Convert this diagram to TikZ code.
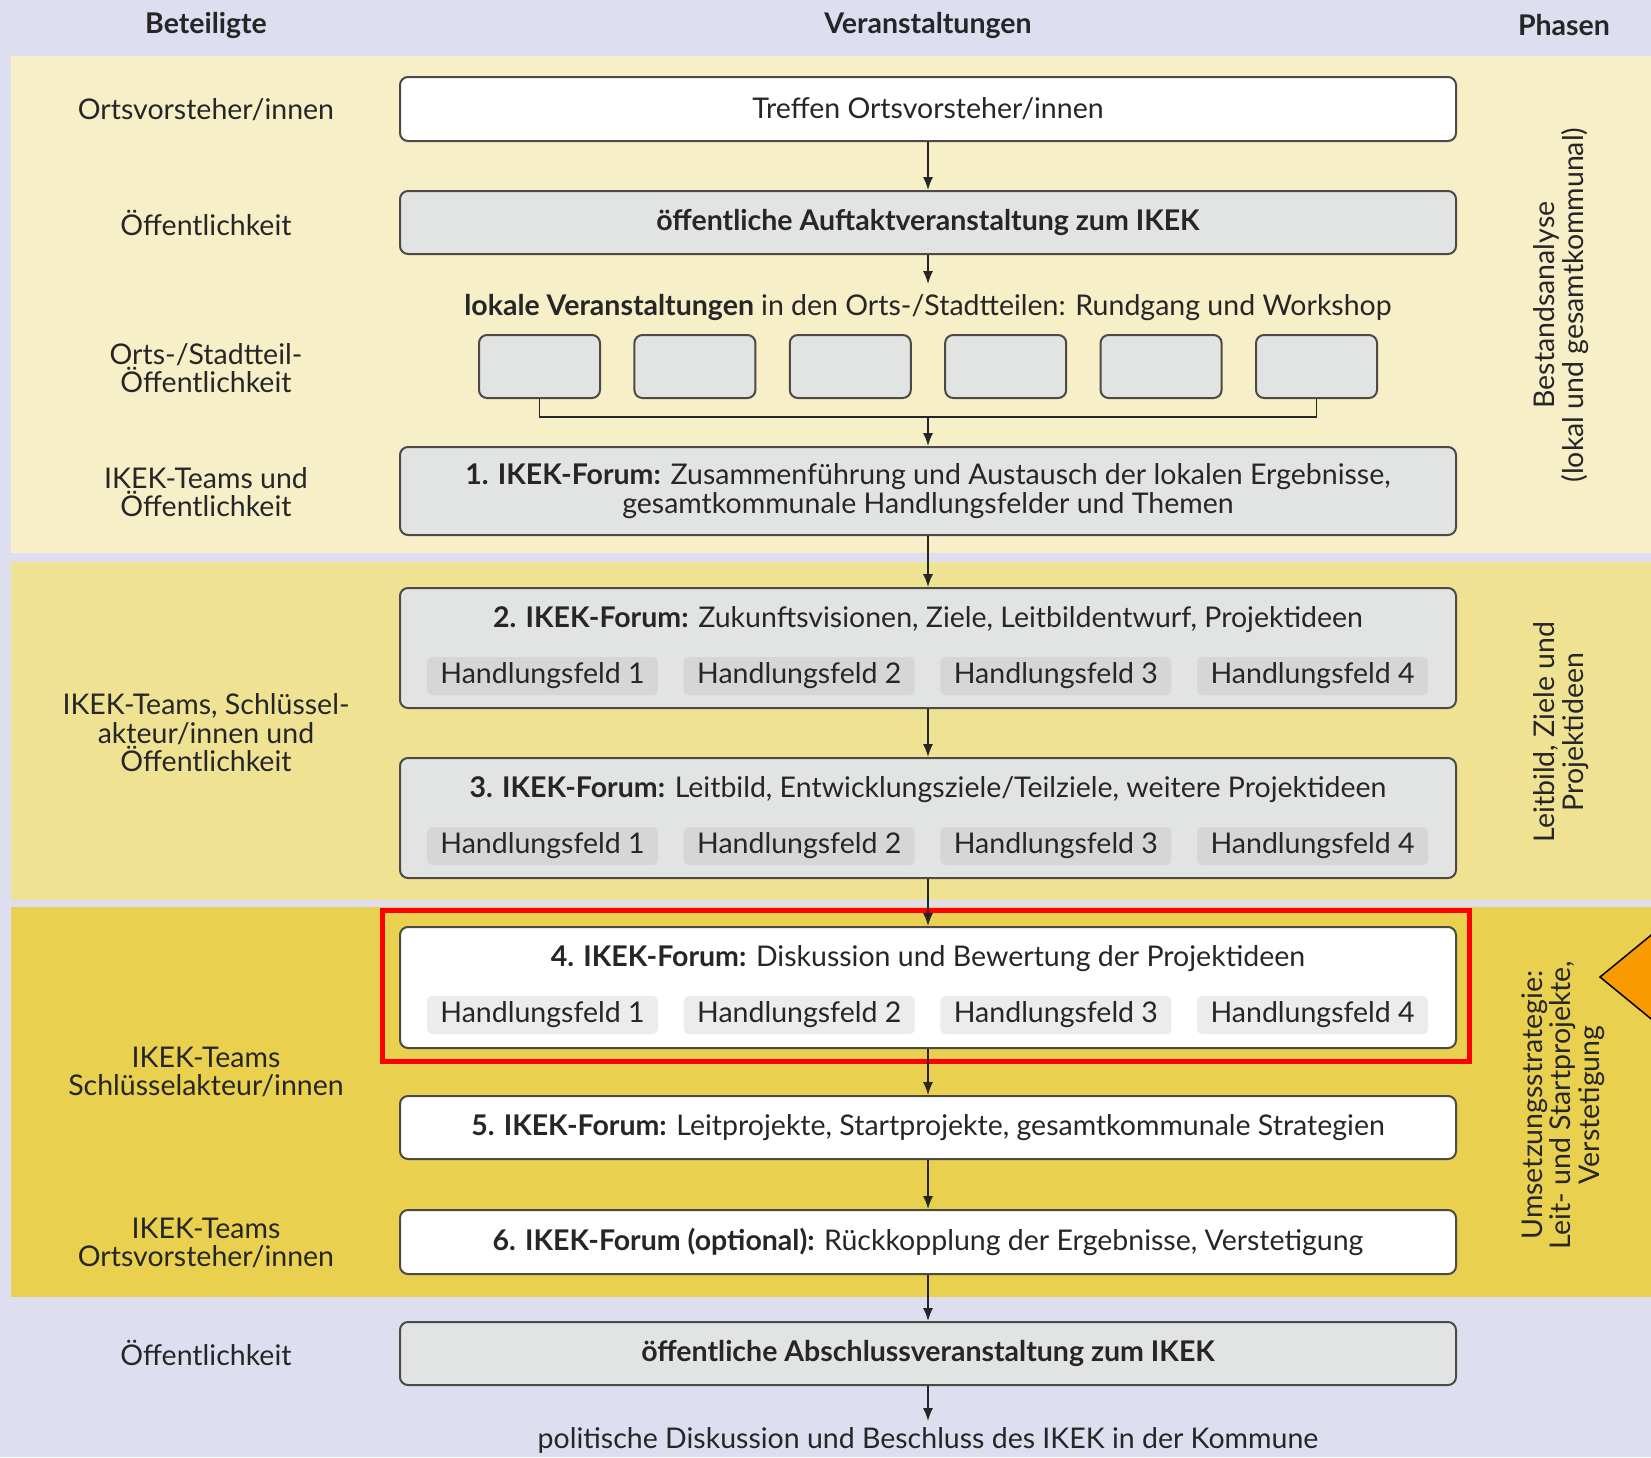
\documentclass[tikz,border=0pt]{standalone}
\usepackage{fontspec}
\setmainfont{Lato}
\usetikzlibrary{arrows.meta}
\definecolor{bgl}{RGB}{221,222,240}
\definecolor{band1}{RGB}{247,239,200}
\definecolor{band2}{RGB}{239,226,147}
\definecolor{band3}{RGB}{233,208,78}
\definecolor{boxgray}{RGB}{226,228,228}
\definecolor{pillgray}{RGB}{214,214,214}
\definecolor{pilllight}{RGB}{236,236,236}
\definecolor{edge}{RGB}{77,74,69}
\definecolor{txt}{RGB}{38,38,38}
\definecolor{orng}{RGB}{249,155,0}
\begin{document}
\begin{tikzpicture}[x=1pt,y=-1pt,
  every node/.style={text=txt, font=\fontsize{28.5}{28.5}\selectfont, inner sep=0pt},
  evbox/.style={draw=edge, line width=2pt, rounded corners=8pt, minimum width=1056pt},
  whitebox/.style={evbox, fill=white},
  graybox/.style={evbox, fill=boxgray},
  smallbox/.style={draw=edge, line width=2pt, rounded corners=8pt, fill=boxgray, minimum width=121pt, minimum height=63pt},
  pill/.style={rounded corners=5pt, minimum width=231pt, minimum height=38pt},
  lbl/.style={align=center},
  phase/.style={align=center, rotate=90},
  hdr/.style={font=\fontsize{28.5}{28.5}\selectfont\bfseries},
  conn/.style={draw=txt, line width=1.5pt},
  arr/.style={conn, -{Latex[length=13pt,width=10pt]}}
]
\useasboundingbox (0,0) rectangle (1651,1457);
\fill[bgl] (0,0) rectangle (1651,1457);
\fill[band1] (11,56) rectangle (1660,553);
\fill[band2] (11,562) rectangle (1660,900);
\fill[band3] (11,907) rectangle (1660,1297);

% headers
\node[hdr] (h1) at (206,25) {Beteiligte};
\node[hdr] (h2) at (928,25) {Veranstaltungen};
\node[hdr] (h3) at (1564,25) {Phasen};

% left labels
\node[lbl] (l1) at (206,110) {Ortsvorsteher/innen};
\node[lbl] (l2) at (206,223) {Öffentlichkeit};
\node[lbl] (l3) at (206,368) {Orts-/Stadtteil-\\Öffentlichkeit};
\node[lbl] (l4) at (206,492) {IKEK-Teams und\\Öffentlichkeit};
\node[lbl] (l5) at (206,733) {IKEK-Teams, Schlüssel-\\akteur/innen und\\Öffentlichkeit};
\node[lbl] (l6) at (206,1072) {IKEK-Teams\\Schlüsselakteur/innen};
\node[lbl] (l7) at (206,1243) {IKEK-Teams\\Ortsvorsteher/innen};
\node[lbl] (l8) at (206,1353) {Öffentlichkeit};

% phases
\node[phase] (p1) at (1561,305) {Bestandsanalyse\\(lokal und gesamtkommunal)};
\node[phase] (p2) at (1561,732) {Leitbild, Ziele und\\Projektideen};
\node[phase] (p3) at (1563,1105) {Umsetzungsstrategie:\\Leit- und Startprojekte,\\Verstetigung};

% events
\node[whitebox, minimum height=64pt] (b1) at (928,109) {Treffen Ortsvorsteher/innen};
\node[graybox, minimum height=63pt] (b2) at (928,222.5) {\bfseries öffentliche Auftaktveranstaltung zum IKEK};
\node (lok) at (928,308) {\textbf{lokale Veranstaltungen} in den Orts-/Stadtteilen: Rundgang und Workshop};
\coordinate (lokin) at (928,284);
\foreach \i in {0,...,5} {
  \node[smallbox] (s\i) at ({539.5+\i*155.4},366.5) {};
}
\coordinate (join) at (928,417);
\node[graybox, minimum height=88pt, align=center] (f1) at (928,491) {\textbf{1. IKEK-Forum:} Zusammenführung und Austausch der lokalen Ergebnisse,\\gesamtkommunale Handlungsfelder und Themen};

\node[graybox, minimum height=120pt] (f2) at (928,648) {};
\node (f2t) at (928,620) {\textbf{2. IKEK-Forum:} Zukunftsvisionen, Ziele, Leitbildentwurf, Projektideen};
\node[graybox, minimum height=120pt] (f3) at (928,818) {};
\node (f3t) at (928,790) {\textbf{3. IKEK-Forum:} Leitbild, Entwicklungsziele/Teilziele, weitere Projektideen};
\node[whitebox, minimum height=121pt] (f4) at (928,987.5) {};
\node (f4t) at (928,959) {\textbf{4. IKEK-Forum:} Diskussion und Bewertung der Projektideen};
\foreach \i in {1,...,4} {
  \node[pill, fill=pillgray] (pa\i) at ({542.5+(\i-1)*256.7},676) {Handlungsfeld \i};
  \node[pill, fill=pillgray] (pb\i) at ({542.5+(\i-1)*256.7},846) {Handlungsfeld \i};
  \node[pill, fill=pilllight] (pc\i) at ({542.5+(\i-1)*256.7},1015) {Handlungsfeld \i};
}
\node[whitebox, minimum height=63pt] (f5) at (928,1127.5) {\textbf{5. IKEK-Forum:} Leitprojekte, Startprojekte, gesamtkommunale Strategien};
\node[whitebox, minimum height=64pt] (f6) at (928,1242) {\textbf{6. IKEK-Forum (optional):} Rückkopplung der Ergebnisse, Verstetigung};
\node[graybox, minimum height=63pt] (f7) at (928,1353.5) {\bfseries öffentliche Abschlussveranstaltung zum IKEK};
\node (end) at (928,1440) {politische Diskussion und Beschluss des IKEK in der Kommune};
\coordinate (endin) at (928,1421);

% red highlight
\node[draw=red, line width=5pt, minimum width=1087pt, minimum height=151pt] (hl) at (925.5,985.5) {};

% connectors
\draw[arr] (b1.south) -- (b2.north);
\draw[arr] (b2.south) -- (lokin);
\draw[conn] (s0.south) |- (join) -| (s5.south);
\draw[arr] (join) -- (f1.north);
\draw[arr] (f1.south) -- (f2.north);
\draw[arr] (f2.south) -- (f3.north);
\draw[arr] (f3.south) -- (f4.north);
\draw[arr] (f4.south) -- (f5.north);
\draw[arr] (f5.south) -- (f6.north);
\draw[arr] (f6.south) -- (f7.north);
\draw[arr] (f7.south) -- (endin);

% orange pointer
\draw[fill=orng, draw=black, line width=1.5pt] (1600,977) -- (1700,895) -- (1700,1059) -- cycle;
\end{tikzpicture}
\end{document}
